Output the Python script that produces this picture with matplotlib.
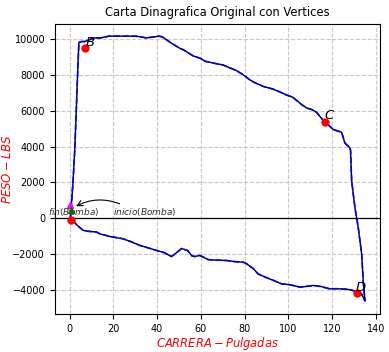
import matplotlib
matplotlib.use("Agg")
import matplotlib.pyplot as plt

x_carta = [0.3, 0.8, 1.5, 2.3, 3.0, 3.6, 4.2, 5.5, 7.0, 9.0, 11.4, 14, 18, 24, 30, 33, 35, 38, 41, 42.5,
           46, 50, 52, 56.5, 60, 62, 65.6, 70, 73.3, 76, 79.4, 82, 84, 88.5, 93, 96, 99.2, 102, 104, 106,
           108.4, 111, 113, 115, 117, 120.6, 123, 124.4, 125.9, 128, 128.5, 129, 130.5, 132, 133.6, 134.3,
           135.1, 133.5, 131.6, 129, 126.7, 122, 119, 115, 111.4, 108, 105.3, 100.7, 96.9, 94, 91.6, 88,
           86.2, 84, 80.9, 79.4, 76, 71.8, 67, 63.3, 61, 59.5, 57.2, 56, 54, 51.2, 49, 46.6, 43, 39.7, 36,
           32.1, 28, 24.4, 18.3, 13.7, 12.2, 8, 6.1, 4.5, 3.1, 1.5, 0.3]
y_carta = [0, 800, 2000, 3800, 6000, 8000, 9800, 9850, 9850, 9950, 10050, 10050, 10150, 10150, 10150,
           10100, 10050, 10100, 10150, 10100, 9800, 9500, 9390, 9050, 8900, 8750, 8650, 8550, 8380, 8250,
           8000, 7750, 7600, 7350, 7200, 7050, 6870, 6750, 6550, 6350, 6150, 6050, 5900, 5600, 5350, 4950,
           4850, 4800, 4200, 3950, 3800, 2100, 600, -500, -2000, -3500, -4600, -4200, -4100, -4000, -3950,
           -3920, -3930, -3800, -3740, -3800, -3830, -3700, -3650, -3500, -3380, -3200, -3100, -2800, -2530,
           -2440, -2420, -2350, -2330, -2300, -2150, -2070, -2130, -2100, -1800, -1680, -1900, -2130, -1900,
           -1790, -1650, -1510, -1300, -1140, -1010, -860, -760, -720, -670, -500, -350, -100, 0]

vert_x = [0.5, 7.2, 116.8, 131.5]
vert_y = [-100, 9480, 5350, -4150]
vert_labels = ["B", "C", "D"]
label_x = [9.3, 118.8, 133.3]
label_y = [9800, 5750, -3850]

fig = plt.figure(figsize=(3.89, 3.52), dpi=100)
ax = fig.add_axes([0.141, 0.108, 0.836, 0.824])

ax.grid(True, linestyle='--', color='#c8c8c8', linewidth=0.8)
ax.axhline(0, color='black', linewidth=0.9)
ax.plot(x_carta, y_carta, color='black', linewidth=1.0)
ax.plot(x_carta, y_carta, color='blue', linestyle='--', linewidth=1.2)
ax.plot(vert_x, vert_y, 'o', color='red', markersize=5, linestyle='none')
for lx, ly, t in zip(label_x, label_y, vert_labels):
    ax.text(lx, ly, '$' + t + '$', fontsize=9.5, ha='center', va='center', color='black')

ax.plot([0.2], [750], marker='^', color='magenta', markersize=4)
ax.plot([0.5], [450], marker='^', color='green', markersize=5)
ax.text(-10, 0, '$fin(Bomba)$', fontsize=6.5, va='bottom', ha='left', color='#333333')
ax.text(20, 0, '$inicio(Bomba)$', fontsize=6.5, va='bottom', ha='left', color='#333333')
ax.annotate('', xy=(1.8, 600), xytext=(24, 750),
            arrowprops=dict(arrowstyle='->', color='black', linewidth=0.8,
                            connectionstyle='arc3,rad=0.25'))

ax.set_xlim(-6.8, 142)
ax.set_ylim(-5330, 10830)
ax.set_xticks([0, 20, 40, 60, 80, 100, 120, 140])
ax.set_yticks([-4000, -2000, 0, 2000, 4000, 6000, 8000, 10000])
ax.tick_params(labelsize=7)
ax.set_title('Carta Dinagrafica Original con Vertices', fontsize=8.3)
ax.set_xlabel('$CARRERA - Pulgadas$', color='red', fontsize=8.3)
ax.set_ylabel('$PESO - LBS$', color='red', fontsize=8.5)
ax.xaxis.set_label_coords(0.5, -0.072)
ax.yaxis.set_label_coords(-0.125, 0.5)

fig.savefig('out.png', dpi=100)
